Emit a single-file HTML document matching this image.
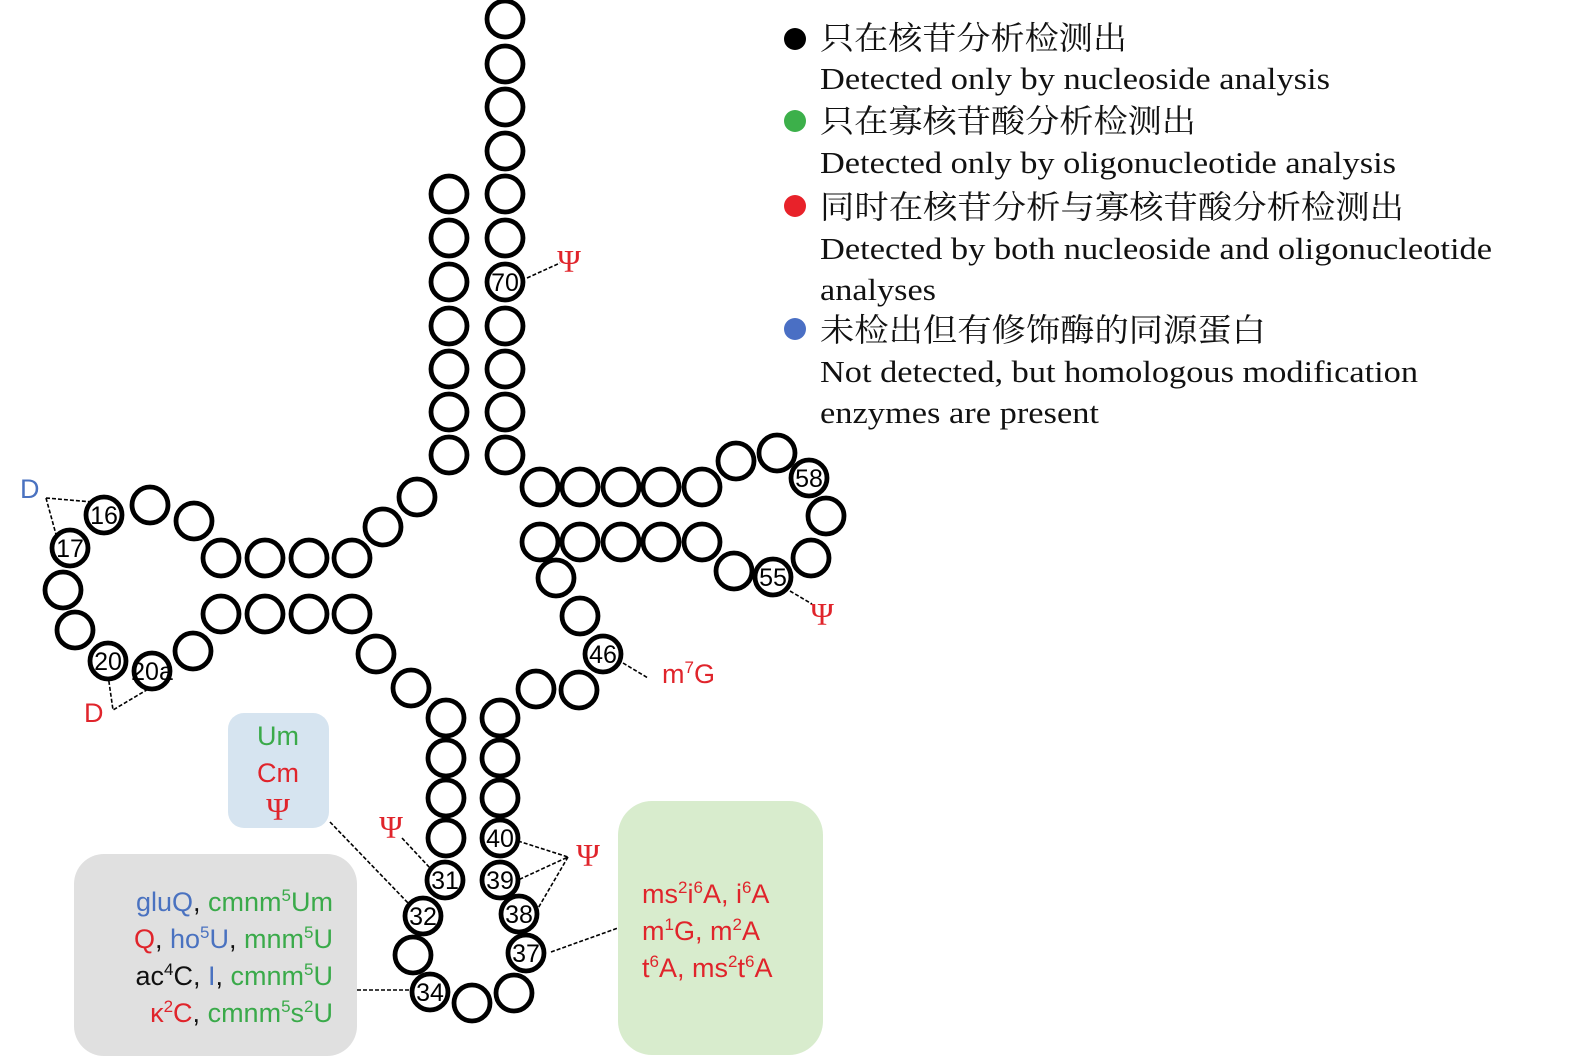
<!DOCTYPE html>
<html><head><meta charset="utf-8"><style>
html,body{margin:0;padding:0;background:#fff;}
svg{display:block;}
.c{fill:#fff;stroke:#000;stroke-width:4.8;}
.n{font-family:"Liberation Sans","DejaVu Sans",sans-serif;font-size:25px;text-anchor:middle;dominant-baseline:central;fill:#000;}
.d{stroke:#000;stroke-width:1.6;stroke-dasharray:4 2;fill:none;}
.s{font-family:"Liberation Sans","DejaVu Sans",sans-serif;font-size:27px;}
.psi{font-family:"Liberation Serif",serif;font-size:32px;fill:#e0242b;text-anchor:middle;}
.g{fill:#3aaa4a}.r{fill:#e0242b}.b{fill:#4a72c0}.k{fill:#111}
.zh{font-family:"Liberation Serif","Noto Serif CJK SC",serif;font-size:32px;fill:#111;}
.en{font-family:"Liberation Serif",serif;font-size:31px;fill:#111;}
</style></head><body>
<svg width="1575" height="1062" viewBox="0 0 1575 1062" xmlns="http://www.w3.org/2000/svg">
<rect x="228" y="713" width="101" height="115" rx="16" fill="#d6e4f0"/>
<rect x="74" y="854" width="283" height="202" rx="30" fill="#e0e0e0"/>
<rect x="618" y="801" width="205" height="254" rx="34" fill="#d8eccd"/>
<path class="d" d="M46,498 L104,503 M46,498 L57,538"/>
<path class="d" d="M108,675 L113,710 L150,688"/>
<path class="d" d="M527,278 L560,263"/>
<path class="d" d="M790,591 L812,604"/>
<path class="d" d="M623,663 L648,678"/>
<path class="d" d="M330,822 L410,905"/>
<path class="d" d="M402,838 L430,868"/>
<path class="d" d="M518,841 L568,857 L518,880 M568,857 L537,910"/>
<path class="d" d="M551,952 L618,928"/>
<path class="d" d="M357,990 L412,990"/>
<g>
<circle class="c" cx="505" cy="19" r="18"/><circle class="c" cx="505" cy="64" r="18"/><circle class="c" cx="505" cy="107" r="18"/><circle class="c" cx="505" cy="151" r="18"/><circle class="c" cx="505" cy="194" r="18"/><circle class="c" cx="505" cy="238" r="18"/><circle class="c" cx="505" cy="282" r="18"/><circle class="c" cx="505" cy="326" r="18"/><circle class="c" cx="505" cy="369" r="18"/><circle class="c" cx="505" cy="412" r="18"/><circle class="c" cx="505" cy="455" r="18"/>
<circle class="c" cx="449" cy="194" r="18"/><circle class="c" cx="449" cy="238" r="18"/><circle class="c" cx="449" cy="282" r="18"/><circle class="c" cx="449" cy="326" r="18"/><circle class="c" cx="449" cy="369" r="18"/><circle class="c" cx="449" cy="412" r="18"/><circle class="c" cx="449" cy="455" r="18"/>
<circle class="c" cx="417" cy="497" r="18"/><circle class="c" cx="383" cy="527" r="18"/>
<circle class="c" cx="221" cy="558" r="18"/><circle class="c" cx="265" cy="558" r="18"/><circle class="c" cx="309" cy="558" r="18"/><circle class="c" cx="352" cy="558" r="18"/>
<circle class="c" cx="221" cy="614" r="18"/><circle class="c" cx="265" cy="614" r="18"/><circle class="c" cx="309" cy="614" r="18"/><circle class="c" cx="352" cy="614" r="18"/>
<circle class="c" cx="194" cy="521" r="18"/><circle class="c" cx="150" cy="505" r="18"/><circle class="c" cx="104" cy="515" r="18"/><circle class="c" cx="70" cy="548" r="18"/><circle class="c" cx="63" cy="590" r="18"/><circle class="c" cx="75" cy="630" r="18"/><circle class="c" cx="108" cy="661" r="18"/><circle class="c" cx="152" cy="671" r="18"/><circle class="c" cx="193" cy="651" r="18"/>
<circle class="c" cx="376" cy="654" r="18"/><circle class="c" cx="411" cy="688" r="18"/>
<circle class="c" cx="446" cy="718" r="18"/><circle class="c" cx="446" cy="758" r="18"/><circle class="c" cx="446" cy="798" r="18"/><circle class="c" cx="446" cy="838" r="18"/>
<circle class="c" cx="445" cy="880" r="18"/><circle class="c" cx="423" cy="916" r="18"/><circle class="c" cx="413" cy="955" r="18"/><circle class="c" cx="430" cy="992" r="18"/><circle class="c" cx="472" cy="1003" r="18"/><circle class="c" cx="514" cy="993" r="18"/><circle class="c" cx="526" cy="953" r="18"/><circle class="c" cx="519" cy="914" r="18"/><circle class="c" cx="500" cy="880" r="18"/><circle class="c" cx="500" cy="838" r="18"/>
<circle class="c" cx="500" cy="798" r="18"/><circle class="c" cx="500" cy="758" r="18"/><circle class="c" cx="500" cy="718" r="18"/>
<circle class="c" cx="536" cy="689" r="18"/><circle class="c" cx="579" cy="690" r="18"/><circle class="c" cx="603" cy="654" r="18"/><circle class="c" cx="580" cy="616" r="18"/><circle class="c" cx="556" cy="578" r="18"/>
<circle class="c" cx="540" cy="542" r="18"/><circle class="c" cx="580" cy="542" r="18"/><circle class="c" cx="621" cy="542" r="18"/><circle class="c" cx="661" cy="542" r="18"/><circle class="c" cx="702" cy="542" r="18"/>
<circle class="c" cx="734" cy="571" r="18"/><circle class="c" cx="773" cy="577" r="18"/><circle class="c" cx="811" cy="558" r="18"/><circle class="c" cx="826" cy="516" r="18"/><circle class="c" cx="809" cy="478" r="18"/><circle class="c" cx="777" cy="453" r="18"/><circle class="c" cx="736" cy="461" r="18"/>
<circle class="c" cx="540" cy="487" r="18"/><circle class="c" cx="580" cy="487" r="18"/><circle class="c" cx="621" cy="487" r="18"/><circle class="c" cx="661" cy="487" r="18"/><circle class="c" cx="702" cy="487" r="18"/>
</g>
<text class="n" x="505" y="283" font-size="27">70</text>
<text class="n" x="104" y="516" font-size="27">16</text>
<text class="n" x="70" y="549" font-size="27">17</text>
<text class="n" x="108" y="662" font-size="27">20</text>
<text class="n" x="152" y="672" font-size="18">20a</text>
<text class="n" x="445" y="881">31</text>
<text class="n" x="423" y="917">32</text>
<text class="n" x="430" y="993">34</text>
<text class="n" x="526" y="954">37</text>
<text class="n" x="519" y="915">38</text>
<text class="n" x="500" y="881">39</text>
<text class="n" x="500" y="839">40</text>
<text class="n" x="603" y="655">46</text>
<text class="n" x="773" y="578">55</text>
<text class="n" x="809" y="479">58</text>
<text class="s b" x="20" y="498" font-size="30">D</text>
<text class="s r" x="84" y="722" font-size="30">D</text>
<text class="psi" x="569" y="272">Ψ</text>
<text class="psi" x="822" y="625">Ψ</text>
<text class="psi" x="391" y="838">Ψ</text>
<text class="psi" x="588" y="866">Ψ</text>
<text class="s r" x="662" y="683">m<tspan font-size="17" dy="-10">7</tspan><tspan dy="10">G</tspan></text>
<text class="s g" x="278" y="745" text-anchor="middle">Um</text>
<text class="s r" x="278" y="782" text-anchor="middle">Cm</text>
<text class="psi" x="278" y="820">Ψ</text>
<g class="s" text-anchor="end">
<text x="333" y="911"><tspan class="b">gluQ</tspan><tspan class="k">, </tspan><tspan class="g">cmnm<tspan font-size="17" dy="-10">5</tspan><tspan dy="10">Um</tspan></tspan></text>
<text x="333" y="948"><tspan class="r">Q</tspan><tspan class="k">, </tspan><tspan class="b">ho<tspan font-size="17" dy="-10">5</tspan><tspan dy="10">U</tspan></tspan><tspan class="k">, </tspan><tspan class="g">mnm<tspan font-size="17" dy="-10">5</tspan><tspan dy="10">U</tspan></tspan></text>
<text x="333" y="985"><tspan class="k">ac<tspan font-size="17" dy="-10">4</tspan><tspan dy="10">C, </tspan></tspan><tspan class="b">I</tspan><tspan class="k">, </tspan><tspan class="g">cmnm<tspan font-size="17" dy="-10">5</tspan><tspan dy="10">U</tspan></tspan></text>
<text x="333" y="1022"><tspan class="r">κ<tspan font-size="17" dy="-10">2</tspan><tspan dy="10">C</tspan></tspan><tspan class="k">, </tspan><tspan class="g">cmnm<tspan font-size="17" dy="-10">5</tspan><tspan dy="10">s</tspan><tspan font-size="17" dy="-10">2</tspan><tspan dy="10">U</tspan></tspan></text>
</g>
<g class="s r">
<text x="642" y="903">ms<tspan font-size="17" dy="-10">2</tspan><tspan dy="10">i</tspan><tspan font-size="17" dy="-10">6</tspan><tspan dy="10">A, i</tspan><tspan font-size="17" dy="-10">6</tspan><tspan dy="10">A</tspan></text>
<text x="642" y="940">m<tspan font-size="17" dy="-10">1</tspan><tspan dy="10">G, m</tspan><tspan font-size="17" dy="-10">2</tspan><tspan dy="10">A</tspan></text>
<text x="642" y="977">t<tspan font-size="17" dy="-10">6</tspan><tspan dy="10">A, ms</tspan><tspan font-size="17" dy="-10">2</tspan><tspan dy="10">t</tspan><tspan font-size="17" dy="-10">6</tspan><tspan dy="10">A</tspan></text>
</g>
<circle cx="795" cy="39" r="11" fill="#000"/>
<circle cx="795" cy="121" r="11" fill="#3cb04a"/>
<circle cx="795" cy="206" r="11" fill="#e8222a"/>
<circle cx="795" cy="329" r="11" fill="#4a6fc4"/>
<text class="zh" x="820" y="49" textLength="307" lengthAdjust="spacingAndGlyphs">只在核苷分析检测出</text>
<text class="en" x="820" y="89" textLength="510" lengthAdjust="spacingAndGlyphs">Detected only by nucleoside analysis</text>
<text class="zh" x="820" y="132" textLength="376" lengthAdjust="spacingAndGlyphs">只在寡核苷酸分析检测出</text>
<text class="en" x="820" y="173" textLength="576" lengthAdjust="spacingAndGlyphs">Detected only by oligonucleotide analysis</text>
<text class="zh" x="820" y="218" textLength="584" lengthAdjust="spacingAndGlyphs">同时在核苷分析与寡核苷酸分析检测出</text>
<text class="en" x="820" y="259" textLength="672" lengthAdjust="spacingAndGlyphs">Detected by both nucleoside and oligonucleotide</text>
<text class="en" x="820" y="300" textLength="116" lengthAdjust="spacingAndGlyphs">analyses</text>
<text class="zh" x="820" y="341" textLength="446" lengthAdjust="spacingAndGlyphs">未检出但有修饰酶的同源蛋白</text>
<text class="en" x="820" y="382" textLength="598" lengthAdjust="spacingAndGlyphs">Not detected, but homologous modification</text>
<text class="en" x="820" y="423" textLength="279" lengthAdjust="spacingAndGlyphs">enzymes are present</text>
</svg>
</body></html>
